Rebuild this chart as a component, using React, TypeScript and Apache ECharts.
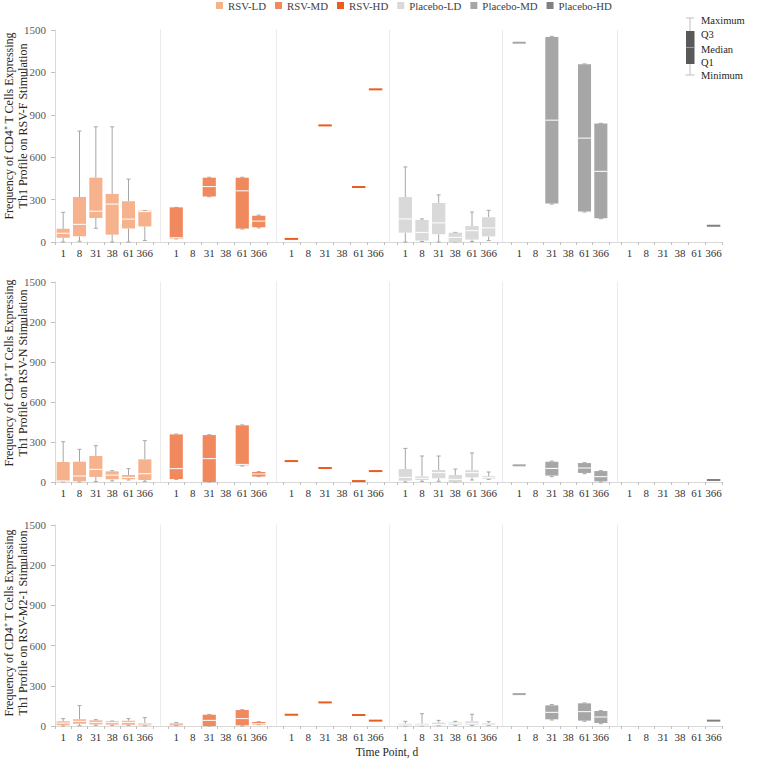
import React, { useEffect, useRef } from "react";
import * as echarts from "echarts";

// ---------- data ----------
const timePoints = ["1", "8", "31", "38", "61", "366"];
const groups = ["RSV-LD", "RSV-MD", "RSV-HD", "Placebo-LD", "Placebo-MD", "Placebo-HD"];
const stimuli = ["RSV-F", "RSV-N", "RSV-M2-1"];
const yTickMin = 0;
const yTickMax = 1500;
const yTickStep = 300;

// each entry: [min, Q1, median, Q3, max] per time point, null = no data
type Box = number[] | null;

const F_RSV_LD: Box[] = [[0, 30, 62, 93, 210], [5, 40, 125, 318, 785], [97, 170, 218, 455, 815], [0, 52, 268, 340, 815], [0, 95, 162, 288, 445], [10, 110, 215, 222, 222]];
const F_RSV_MD: Box[] = [[22, 25, 30, 245, 245], null, [320, 322, 392, 455, 458], null, [92, 95, 362, 455, 458], [100, 105, 148, 186, 190]];
const F_RSV_HD: Box[] = [[22, 22, 22, 22, 22], null, [825, 825, 825, 825, 825], null, [389, 389, 389, 389, 389], [1080, 1080, 1080, 1080, 1080]];
const F_PBO_LD: Box[] = [[0, 66, 163, 318, 531], [3, 10, 68, 156, 163], [0, 55, 135, 276, 333], [0, 0, 33, 66, 68], [3, 17, 80, 113, 212], [10, 40, 100, 175, 224]];
const F_PBO_MD: Box[] = [[1410, 1410, 1410, 1410, 1410], null, [268, 272, 862, 1450, 1455], null, [212, 216, 735, 1257, 1260], [165, 168, 500, 838, 840]];
const F_PBO_HD: Box[] = [null, null, null, null, null, [115, 115, 115, 115, 115]];

const N_RSV_LD: Box[] = [[0, 3, 8, 150, 302], [0, 5, 45, 152, 245], [3, 38, 95, 195, 272], [8, 20, 52, 80, 85], [15, 20, 35, 52, 100], [5, 15, 62, 170, 310]];
const N_RSV_MD: Box[] = [[20, 22, 100, 357, 360], null, [0, 0, 175, 352, 355], null, [120, 125, 132, 425, 428], [40, 42, 60, 75, 78]];
const N_RSV_HD: Box[] = [[157, 157, 157, 157, 157], null, [105, 105, 105, 105, 105], null, [7, 7, 7, 7, 7], [82, 82, 82, 82, 82]];
const N_PBO_LD: Box[] = [[0, 10, 35, 97, 252], [5, 15, 28, 42, 195], [5, 28, 70, 90, 195], [0, 0, 20, 52, 97], [15, 35, 70, 88, 218], [20, 25, 35, 45, 75]];
const N_PBO_MD: Box[] = [[125, 125, 125, 125, 125], null, [40, 48, 102, 152, 157], null, [62, 68, 105, 142, 145], [0, 5, 40, 82, 85]];
const N_PBO_HD: Box[] = [null, null, null, null, null, [15, 15, 15, 15, 15]];

const M_RSV_LD: Box[] = [[0, 5, 22, 35, 55], [2, 17, 35, 50, 152], [5, 12, 27, 42, 47], [5, 10, 25, 35, 37], [5, 10, 27, 40, 55], [2, 5, 15, 22, 62]];
const M_RSV_MD: Box[] = [[2, 5, 15, 22, 25], null, [0, 0, 42, 84, 87], null, [0, 5, 55, 119, 122], [10, 12, 17, 30, 32]];
const M_RSV_HD: Box[] = [[84, 84, 84, 84, 84], null, [176, 176, 176, 176, 176], null, [82, 82, 82, 82, 82], [40, 40, 40, 40, 40]];
const M_PBO_LD: Box[] = [[0, 2, 8, 17, 35], [0, 2, 8, 17, 92], [2, 5, 12, 25, 42], [5, 8, 17, 27, 35], [5, 10, 20, 35, 87], [5, 7, 15, 22, 32]];
const M_PBO_MD: Box[] = [[238, 238, 238, 238, 238], null, [45, 50, 102, 154, 160], null, [35, 40, 107, 169, 172], [17, 22, 67, 112, 115]];
const M_PBO_HD: Box[] = [null, null, null, null, null, [40, 40, 40, 40, 40]];

const rowData: Box[][][] = [
  [F_RSV_LD, F_RSV_MD, F_RSV_HD, F_PBO_LD, F_PBO_MD, F_PBO_HD],
  [N_RSV_LD, N_RSV_MD, N_RSV_HD, N_PBO_LD, N_PBO_MD, N_PBO_HD],
  [M_RSV_LD, M_RSV_MD, M_RSV_HD, M_PBO_LD, M_PBO_MD, M_PBO_HD],
];

const keyLabels = ["Maximum", "Q3", "Median", "Q1", "Minimum"];

// ---------- styles / layout ----------
const COLORS = ["#f6b18d", "#f0895e", "#ea5d1c", "#d9d9d9", "#a6a6a6", "#808080"];
const WHISKER = "#a6a6a6";
const FONT = "Liberation Serif";
const PANEL_LEFT = [55, 168, 283, 397, 511, 621];
const PANEL_WIDTH = [98, 99, 101, 100, 98, 101];
const DIVIDER_X = [55, 160, 276, 389, 502, 617];
const ROW_TOP = [30, 282, 525];
const ROW_HEIGHT = [212, 200, 201];
const FRAME_LEFT = 55;
const FRAME_WIDTH = 667;

function makeRender(color: string) {
  return (params: any, api: any) => {
    const x = api.value(0);
    const pts = [1, 2, 3, 4, 5].map((i) => api.coord([x, api.value(i)]));
    const cx = pts[0][0];
    const band = api.size([1, 0])[0];
    const bw = band * 0.8;
    const yMin = pts[0][1];
    const yQ1 = pts[1][1];
    const yMed = pts[2][1];
    const yQ3 = pts[3][1];
    const yMax = pts[4][1];
    const children: any[] = [];
    if (yQ1 - yQ3 < 1.5) {
      children.push({
        type: "rect",
        shape: { x: cx - bw / 2, y: yMed - 1, width: bw, height: 2 },
        style: { fill: color },
      });
      return { type: "group", children };
    }
    const cap = 4;
    const ws = { stroke: WHISKER, lineWidth: 1 };
    if (yQ3 - yMax > 0.5) {
      children.push({ type: "line", shape: { x1: cx, y1: yMax, x2: cx, y2: yQ3 }, style: ws });
    }
    children.push({ type: "line", shape: { x1: cx - cap / 2, y1: yMax, x2: cx + cap / 2, y2: yMax }, style: ws });
    if (yMin - yQ1 > 0.5) {
      children.push({ type: "line", shape: { x1: cx, y1: yQ1, x2: cx, y2: yMin }, style: ws });
    }
    children.push({ type: "line", shape: { x1: cx - cap / 2, y1: yMin, x2: cx + cap / 2, y2: yMin }, style: ws });
    children.push({
      type: "rect",
      shape: { x: cx - bw / 2, y: yQ3, width: bw, height: yQ1 - yQ3 },
      style: { fill: color },
    });
    children.push({
      type: "line",
      shape: { x1: cx - bw / 2, y1: yMed, x2: cx + bw / 2, y2: yMed },
      style: { stroke: "#ffffff", lineWidth: 1 },
    });
    return { type: "group", children };
  };
}

function buildOption() {
  const grid: any[] = [];
  const xAxis: any[] = [];
  const yAxis: any[] = [];
  const series: any[] = [];

  for (let r = 0; r < 3; r++) {
    for (let c = 0; c < 6; c++) {
      const idx = r * 6 + c;
      grid.push({ left: PANEL_LEFT[c], width: PANEL_WIDTH[c], top: ROW_TOP[r], height: ROW_HEIGHT[r] });
      xAxis.push({
        gridIndex: idx,
        type: "category",
        data: timePoints,
        boundaryGap: true,
        axisLine: { show: true, lineStyle: { color: "#d9d9d9" } },
        axisTick: { show: true, length: 3, lineStyle: { color: "#bfbfbf" } },
        axisLabel: { interval: 0, fontSize: 11, color: "#333333", margin: 5, fontFamily: FONT },
        splitLine: { show: false },
      });
      yAxis.push({
        gridIndex: idx,
        type: "value",
        min: yTickMin,
        max: yTickMax,
        interval: yTickStep,
        offset: PANEL_LEFT[c] - DIVIDER_X[c],
        axisLine: { show: true, lineStyle: { color: c === 0 ? "#d9d9d9" : "#ebebeb" } },
        axisTick: { show: c === 0, length: 4, lineStyle: { color: "#bfbfbf" } },
        axisLabel: {
          show: c === 0,
          fontSize: 11,
          color: "#595959",
          margin: 9,
          fontFamily: FONT,
          formatter: (v: number) => String(v),
        },
        splitLine: { show: false },
      });
      const boxes = rowData[r][c];
      const data: any[] = [];
      boxes.forEach((b, i) => {
        if (b) data.push([i, ...b]);
      });
      series.push({
        type: "custom",
        name: groups[c],
        xAxisIndex: idx,
        yAxisIndex: idx,
        itemStyle: { color: COLORS[c] },
        encode: { x: 0, y: [1, 2, 3, 4, 5] },
        renderItem: makeRender(COLORS[c]),
        data,
        silent: true,
      });
    }
  }
  // frame grids for continuous baseline
  for (let r = 0; r < 3; r++) {
    const idx = grid.length;
    grid.push({ left: FRAME_LEFT, width: FRAME_WIDTH, top: ROW_TOP[r], height: ROW_HEIGHT[r] });
    xAxis.push({
      gridIndex: idx,
      type: "value",
      min: 0,
      max: 1,
      axisLine: { show: true, lineStyle: { color: "#d9d9d9" } },
      axisTick: { show: false },
      axisLabel: { show: false },
      splitLine: { show: false },
    });
    yAxis.push({ gridIndex: idx, type: "value", min: 0, max: 1, show: false });
  }

  const graphic: any[] = [];
  const titleCenters = [126, 373, 623];
  stimuli.forEach((s, r) => {
    graphic.push({
      type: "text",
      x: 16,
      y: titleCenters[r],
      rotation: Math.PI / 2,
      style: {
        text: `Frequency of CD4\u207A T Cells Expressing\nTh1 Profile on ${s} Stimulation`,
        font: `12px '${FONT}'`,
        fill: "#262626",
        align: "center",
        verticalAlign: "middle",
        lineHeight: 14,
      },
    });
  });
  graphic.push({
    type: "text",
    x: 387,
    y: 752,
    style: { text: "Time Point, d", font: `11.5px '${FONT}'`, fill: "#262626", align: "center", verticalAlign: "middle" },
  });
  // box legend key
  const kx = 690;
  graphic.push({ type: "line", shape: { x1: kx, y1: 18, x2: kx, y2: 31 }, style: { stroke: "#bfbfbf", lineWidth: 1 } });
  graphic.push({ type: "line", shape: { x1: kx - 4, y1: 18, x2: kx + 4, y2: 18 }, style: { stroke: "#bfbfbf", lineWidth: 1 } });
  graphic.push({ type: "line", shape: { x1: kx, y1: 64, x2: kx, y2: 75 }, style: { stroke: "#bfbfbf", lineWidth: 1 } });
  graphic.push({ type: "line", shape: { x1: kx - 4.5, y1: 75, x2: kx + 4.5, y2: 75 }, style: { stroke: "#bfbfbf", lineWidth: 1 } });
  graphic.push({ type: "rect", shape: { x: kx - 4, y: 31, width: 8.5, height: 33 }, style: { fill: "#595959" } });
  graphic.push({ type: "line", shape: { x1: kx - 4, y1: 47.5, x2: kx + 4.5, y2: 47.5 }, style: { stroke: "#9a9a9a", lineWidth: 1 } });
  const keyY = [20, 34, 49, 62, 75];
  keyLabels.forEach((t, i) => {
    graphic.push({
      type: "text",
      x: 701,
      y: keyY[i],
      style: { text: t, font: `10.5px '${FONT}'`, fill: "#262626", align: "left", verticalAlign: "middle" },
    });
  });

  return {
    animation: false,
    backgroundColor: "#ffffff",
    textStyle: { fontFamily: FONT },
    legend: {
      data: groups.map((g) => ({ name: g, icon: "rect" })),
      left: 216,
      top: 0,
      padding: 0,
      itemWidth: 7,
      itemHeight: 7,
      itemGap: 9,
      selectedMode: false,
      textStyle: { fontSize: 10.8, color: "#404040", fontFamily: FONT },
    },
    grid,
    xAxis,
    yAxis,
    series,
    graphic,
  };
}

export default function App() {
  const ref = useRef<HTMLDivElement>(null);
  useEffect(() => {
    document.body.style.margin = "0";
    if (!ref.current) return;
    const chart = echarts.init(ref.current, undefined, { renderer: "svg" });
    chart.setOption(buildOption() as any);
    return () => chart.dispose();
  }, []);
  return <div ref={ref} style={{ position: "absolute", left: 0, top: 0, width: 757, height: 760 }} />;
}
